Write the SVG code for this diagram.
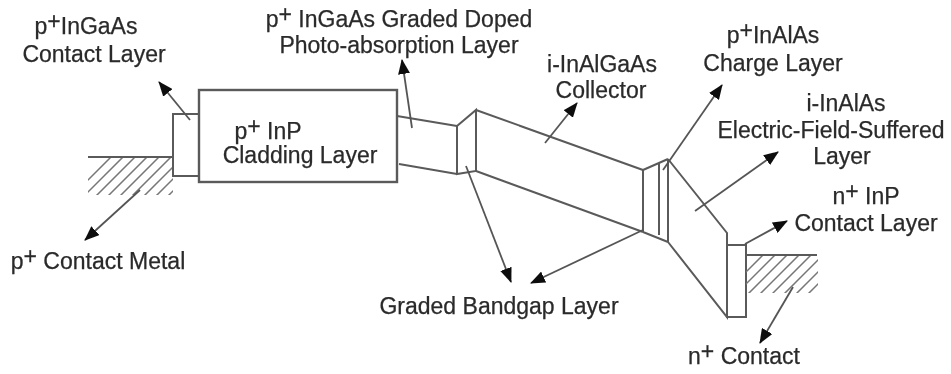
<svg xmlns="http://www.w3.org/2000/svg" width="951" height="374" viewBox="0 0 951 374">
<style>
text{font-family:"Liberation Sans",Arial,sans-serif;font-size:23px;fill:#2a2a2a;text-anchor:middle;stroke:#2a2a2a;stroke-width:0.25}
.s{fill:none;stroke:#5a5a5a;stroke-width:2}
.b{fill:none;stroke:#5a5a5a;stroke-width:2.4}
.h{fill:none;stroke:#777;stroke-width:1.5}
.c{fill:none;stroke:#555;stroke-width:1.8;marker-end:url(#a)}
</style>
<defs>
<marker id="a" markerUnits="userSpaceOnUse" markerWidth="16" markerHeight="12" refX="14" refY="6" orient="auto"><path d="M0 0L15 6L0 12Z" fill="#111"/></marker>
<filter id="f" filterUnits="userSpaceOnUse" x="0" y="0" width="951" height="374"><feGaussianBlur stdDeviation="0.6"/></filter>
<clipPath id="cl"><rect x="88" y="158" width="85" height="37"/></clipPath>
<clipPath id="cr"><rect x="746" y="256" width="72" height="37"/></clipPath>
</defs>
<g filter="url(#f)">
<g id="metal-left">
<path class="s" d="M88 157H173"/>
<g clip-path="url(#cl)"><path class="h" d="M62 206L112 156M74 206L124 156M86 206L136 156M98 206L148 156M110 206L160 156M122 206L172 156M134 206L184 156M146 206L196 156M158 206L208 156M170 206L220 156"/></g>
</g>
<g id="contact-layer"><path class="s" d="M199 114H173V176H199"/></g>
<g id="cladding-layer"><rect class="b" x="199" y="90" width="198" height="92"/></g>
<g id="absorption-layer"><path class="s" d="M397 116L457 126M399 164L457 174"/></g>
<g id="graded-1"><path class="s" d="M457 126L476 110V171L457 174ZM457 126V174"/></g>
<g id="collector"><path class="s" d="M476 110L643 170M476 171L643 232"/></g>
<g id="graded-2"><path class="s" d="M643 170V232M659 163V235M668 159V242M643 170L668 159M643 232L668 242"/></g>
<g id="field-layer"><path class="s" d="M668 159L727 233V317L668 242"/></g>
<g id="n-contact-layer"><rect class="s" x="727" y="245" width="19" height="72"/></g>
<g id="metal-right">
<path class="s" d="M746 255H817"/>
<g clip-path="url(#cr)"><path class="h" d="M714 304L764 254M726 304L776 254M738 304L788 254M750 304L800 254M762 304L812 254M774 304L824 254M786 304L836 254M798 304L848 254M810 304L860 254"/></g>
</g>
<g id="connectors">
<path class="c" d="M190 120L159 82"/>
<path class="c" d="M140 190L85 240"/>
<path class="c" d="M412 128L402 60"/>
<path class="c" d="M545 143L577 103"/>
<path class="c" d="M663 170L722 85"/>
<path class="c" d="M695 211L778 152"/>
<path class="c" d="M745 244L787 221"/>
<path class="c" d="M793 287L760 343"/>
<path class="c" d="M466 166L511 282"/>
<path class="c" d="M643 230L531 283"/>
</g>
<g id="labels">
<text x="86" y="34">p<tspan dy="-5">+</tspan><tspan dy="5">InGaAs</tspan></text>
<text x="94" y="62">Contact Layer</text>
<text x="399" y="27">p<tspan dy="-5">+</tspan><tspan dy="5"> InGaAs Graded Doped</tspan></text>
<text x="399" y="53">Photo-absorption Layer</text>
<text x="268" y="139">p<tspan dy="-5">+</tspan><tspan dy="5"> InP</tspan></text>
<text x="300" y="163">Cladding Layer</text>
<text x="98" y="269">p<tspan dy="-5">+</tspan><tspan dy="5"> Contact Metal</tspan></text>
<text x="602" y="72">i-InAlGaAs</text>
<text x="601" y="98">Collector</text>
<text x="773" y="43">p<tspan dy="-5">+</tspan><tspan dy="5">InAlAs</tspan></text>
<text x="773" y="71">Charge Layer</text>
<text x="846" y="111">i-InAlAs</text>
<text x="831" y="138">Electric-Field-Suffered</text>
<text x="842" y="164">Layer</text>
<text x="866" y="204">n<tspan dy="-5">+</tspan><tspan dy="5"> InP</tspan></text>
<text x="866" y="231">Contact Layer</text>
<text x="499" y="314">Graded Bandgap Layer</text>
<text x="744" y="364">n<tspan dy="-5">+</tspan><tspan dy="5"> Contact</tspan></text>
</g>
</g>
</svg>
